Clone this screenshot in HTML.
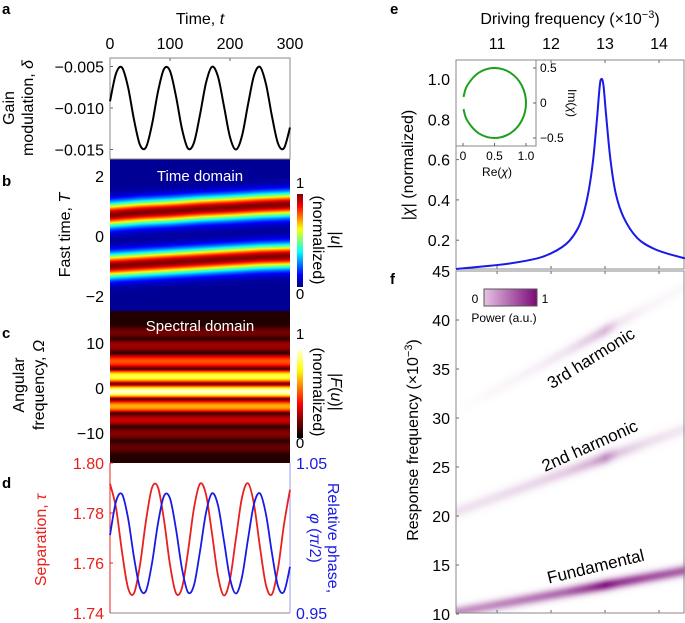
<!DOCTYPE html>
<html><head><meta charset="utf-8">
<style>
html,body{margin:0;padding:0;background:#fff;}
#root{position:relative;width:685px;height:623px;overflow:hidden;font-family:"Liberation Sans",sans-serif;}
canvas{position:absolute;}
svg{position:absolute;left:0;top:0;}
text{font-family:"Liberation Sans",sans-serif;}
</style></head>
<body>
<div id="root">
<canvas id="cb" width="180" height="152" style="left:110px;top:159px"></canvas>
<canvas id="cc" width="180" height="152" style="left:110px;top:311px"></canvas>
<canvas id="cbb" width="6" height="93" style="left:297px;top:194px"></canvas>
<canvas id="cbc" width="6" height="91" style="left:297px;top:347px"></canvas>
<canvas id="cf" width="229" height="342" style="left:456px;top:271px"></canvas>
<svg id="s" width="685" height="623"></svg>
</div>
<script>
// ---------- DATA ----------
const tSamples=[0,10,20,30,40,50,60,70,80,90,100,110,120,130,140,150,160,170,180,190,200,210,220,230,240,250,260,270,280,290,300];
const gainValues=[-9.19,-5.85,-5.13,-7.46,-11.41,-14.45,-14.73,-11.99,-8.02,-5.30,-5.54,-8.59,-12.53,-14.88,-14.16,-10.81,-6.97,-5.03,-6.22,-9.80,-13.51,-15.00,-13.36,-9.59,-6.09,-5.05,-7.13,-11.02,-14.27,-14.83,-12.35];
const separationValues=[1.7917,1.7821,1.7645,1.7501,1.7479,1.7592,1.7769,1.7901,1.7902,1.7772,1.7593,1.7479,1.7501,1.7645,1.7820,1.7917,1.7874,1.7718,1.7548,1.7470,1.7535,1.7700,1.7862,1.7919,1.7835,1.7663,1.7511,1.7475,1.7578,1.7754,1.7893];
const phaseValues=[1.0019,1.0243,1.0292,1.0135,0.9871,0.9667,0.9648,0.9832,1.0098,1.0280,1.0264,1.0059,0.9795,0.9638,0.9686,0.9911,1.0168,1.0298,1.0218,0.9979,0.9730,0.9630,0.9740,0.9992,1.0227,1.0297,1.0157,0.9897,0.9679,0.9642,0.9808];
const bandT=[0,50,100,150,200,250,300];
const band1Center=[0.72,0.80,0.85,0.92,0.97,1.03,1.07];
const band2Center=[-0.98,-0.92,-0.86,-0.80,-0.74,-0.68,-0.65];
const spectralPeaks=[12.4,9.6,6.0,2.7,-0.7,-4.0,-7.0,-10.0,-13.1];
const spectralAmps=[0.15,0.22,0.5,0.85,1.0,0.65,0.28,0.18,0.12];
const driveFreq=[10.24,10.75,11.25,11.75,12.0,12.2,12.35,12.5,12.6,12.7,12.78,12.85,12.9,12.93,12.97,13.02,13.1,13.2,13.35,13.6,13.9,14.2,14.48];
const chiMag=[0.057,0.07,0.085,0.11,0.135,0.165,0.2,0.26,0.33,0.45,0.6,0.8,0.96,1.0,0.97,0.82,0.6,0.43,0.31,0.21,0.158,0.13,0.11];
const chiRe=[0.008,0.067,0.25,0.5,0.75,0.933,1.0,0.933,0.75,0.5,0.25,0.067,0.008];
const chiIm=[0.087,0.25,0.433,0.5,0.433,0.25,0,-0.25,-0.433,-0.5,-0.433,-0.25,-0.087];
const harmDrive=[10.25,10.75,11.25,11.75,12.25,12.75,13.0,13.25,13.75,14.25,14.5];
const fundAmp=[0.45,0.45,0.5,0.55,0.6,0.8,0.95,0.8,0.7,0.65,0.65];
const secondAmp=[0.12,0.12,0.14,0.16,0.2,0.3,0.45,0.22,0.13,0.1,0.1];
const thirdAmp=[0,0.02,0.04,0.06,0.1,0.2,0.28,0.1,0.04,0.03,0.03];
const tTicks=[0,100,200,300];
const gainTicks=[-5,-10,-15];
const gainTickLabels=["−0.005","−0.010","−0.015"];
const fastTicks=[2,0,-2];
const omegaTicks=[10,0,-10];
const sepTicks=[1.80,1.78,1.76,1.74];
const phaseTicks=[1.05,0.95];
const driveTicks=[11,12,13,14];
const chiTicks=[1.0,0.8,0.6,0.4,0.2];
const respTicks=[45,40,35,30,25,20,15,10];

// ---------- SCALES ----------
const xT=t=>110+t/300*180;
const yGain=v=>108-(v+10)*8.3;
const yFast=v=>236-v*30;
const yOm=v=>388-v*4.5;
const ySep=v=>463+(1.80-v)*2500;
const yPh=v=>463+(1.05-v)*1500;
const xD=f=>456+(f-10.24)*54;
const yChi=v=>79+(1.0-v)*201.5;
const xRe=v=>463+v*63;
const yIm=v=>103-v*70;
const yResp=v=>271+(45-v)*9.8;

const NS="http://www.w3.org/2000/svg";
const svg=document.getElementById('s');
function el(tag,attrs,parent){const e=document.createElementNS(NS,tag);for(const k in attrs)e.setAttribute(k,attrs[k]);(parent||svg).appendChild(e);return e;}
function txt(x,y,s,opts){opts=opts||{};const e=el('text',{x:x,y:y,'font-size':opts.size||15,'text-anchor':opts.anchor||'middle',fill:opts.fill||'#000'});
 if(opts.weight)e.setAttribute('font-weight',opts.weight);
 if(opts.rot!==undefined)e.setAttribute('transform','rotate('+opts.rot+' '+x+' '+y+')');
 e.innerHTML=s;return e;}
function smooth(pts){let d='M'+pts[0][0]+','+pts[0][1];
 for(let i=0;i<pts.length-1;i++){const p0=pts[Math.max(0,i-1)],p1=pts[i],p2=pts[i+1],p3=pts[Math.min(pts.length-1,i+2)];
 d+=' C'+(p1[0]+(p2[0]-p0[0])/6)+','+(p1[1]+(p2[1]-p0[1])/6)+' '+(p2[0]-(p3[0]-p1[0])/6)+','+(p2[1]-(p3[1]-p1[1])/6)+' '+p2[0]+','+p2[1];}
 return d;}
function interp(xs,ys,x){if(x<=xs[0])return ys[0];for(let i=0;i<xs.length-1;i++){if(x<=xs[i+1]){const f=(x-xs[i])/(xs[i+1]-xs[i]);return ys[i]+f*(ys[i+1]-ys[i]);}}return ys[ys.length-1];}
const clamp=v=>Math.max(0,Math.min(1,v));
function jet(v){return [clamp(1.5-Math.abs(4*v-3)),clamp(1.5-Math.abs(4*v-2)),clamp(1.5-Math.abs(4*v-1))].map(c=>Math.round(c*255));}
function hot(v){return [clamp(v/0.375),clamp((v-0.375)/0.375),clamp((v-0.75)/0.25)].map(c=>Math.round(c*255));}
function fill(id,fn){const c=document.getElementById(id),ctx=c.getContext('2d'),im=ctx.createImageData(c.width,c.height);
 for(let y=0;y<c.height;y++)for(let x=0;x<c.width;x++){const col=fn(x,y),i=(y*c.width+x)*4;im.data[i]=col[0];im.data[i+1]=col[1];im.data[i+2]=col[2];im.data[i+3]=255;}
 ctx.putImageData(im,0,0);}

// ---------- HEATMAPS ----------
fill('cb',(x,y)=>{const t=x/180*300,T=(236-(159+y))/30;const c1=interp(bandT,band1Center,t),c2=interp(bandT,band2Center,t);
 const v=Math.exp(-Math.pow(T-c1,2)/(2*0.27*0.27))+Math.exp(-Math.pow(T-c2,2)/(2*0.27*0.27));return jet(0.02+0.98*Math.min(1,v));});
fill('cc',(x,y)=>{const O=(388-(311+y))/4.5;let bi=0,bd=1e9;
 spectralPeaks.forEach((p,i)=>{const d=Math.abs(O-p);if(d<bd){bd=d;bi=i;}});
 const p=spectralPeaks[bi],d=O-p;let nb=d>0?spectralPeaks[bi-1]:spectralPeaks[bi+1];let h=nb===undefined?1.6:Math.abs(nb-p)/2;
 const w=Math.cos(Math.PI/2*Math.min(1,Math.abs(d)/h));const v=spectralAmps[bi]*Math.pow(w,0.9)*0.97+0.02*(1-w);return hot(v*0.97+0.03);});
fill('cbb',(x,y)=>jet(1-y/92));
fill('cbc',(x,y)=>hot(1-y/90));
fill('cf',(x,y)=>{const f=10.24+x/54,r=45-y/9.8;
 const amps=[interp(harmDrive,fundAmp,f),interp(harmDrive,secondAmp,f),interp(harmDrive,thirdAmp,f)];
 const sig=[0.4,0.45,0.45];let v=0;
 for(let k=1;k<=3;k++){const s=sig[k-1];v+=amps[k-1]*Math.exp(-Math.pow(r-k*f,2)/(2*s*s));}
 v=clamp(v);return [Math.round(255-v*(255-123)),Math.round(255-v*(255-10)),Math.round(255-v*(255-120))];});

// ---------- PANEL A ----------
txt(2,14,'a',{size:15,weight:'bold',anchor:'start'});
txt(200,24,'Time, <tspan font-style="italic">t</tspan>',{size:16});
tTicks.forEach(t=>{txt(xT(t),49,t,{size:16});el('line',{x1:xT(t),x2:xT(t),y1:58,y2:61,stroke:'#666'});});
gainTicks.forEach((v,i)=>{txt(104,yGain(v)+6,gainTickLabels[i],{size:16,anchor:'end'});el('line',{x1:110,x2:113,y1:yGain(v),y2:yGain(v),stroke:'#666'});});
el('rect',{x:110,y:58,width:180,height:101,fill:'none',stroke:'#888'});
txt(14,108,'Gain',{size:16,rot:-90});
txt(33,108,'modulation, <tspan font-style="italic">δ</tspan>',{size:16,rot:-90});
const gl=el('path',{d:smooth(tSamples.map((t,i)=>[xT(t),yGain(gainValues[i])])),fill:'none',stroke:'#000','stroke-width':2});



// ---------- PANEL B ----------
txt(2,186,'b',{size:15,weight:'bold',anchor:'start'});
fastTicks.forEach(v=>txt(104,yFast(v)+6,v===-2?'−2':v,{size:16,anchor:'end'}));
txt(70,235,'Fast time, <tspan font-style="italic">T</tspan>',{size:16,rot:-90});
txt(200,181,'Time domain',{size:15,fill:'#fff'});
txt(300,188,'1',{size:15});txt(300,299,'0',{size:15});
txt(313,240,'(normalized)',{size:16,rot:90});
txt(331,240,'|<tspan font-style="italic">u</tspan>|',{size:16,rot:90});

// ---------- PANEL C ----------
txt(2,338,'c',{size:15,weight:'bold',anchor:'start'});
omegaTicks.forEach(v=>txt(104,yOm(v)+6,v===-10?'−10':v,{size:16,anchor:'end'}));
txt(24,385,'Angular',{size:16,rot:-90});
txt(44,385,'frequency, <tspan font-style="italic">Ω</tspan>',{size:16,rot:-90});
txt(200,331,'Spectral domain',{size:15,fill:'#fff'});
txt(300,339,'1',{size:15});txt(300,448,'0',{size:15});
txt(313,392,'(normalized)',{size:16,rot:90});
txt(331,392,'|<tspan font-style="italic">F</tspan>(<tspan font-style="italic">u</tspan>)|',{size:16,rot:90});

// ---------- PANEL D ----------
txt(2,488,'d',{size:15,weight:'bold',anchor:'start'});
sepTicks.forEach(v=>{txt(104,ySep(v)+6,v.toFixed(2),{size:16,anchor:'end',fill:'#e8201e'});el('line',{x1:110,x2:113,y1:ySep(v),y2:ySep(v),stroke:'#e8201e'});});
phaseTicks.forEach(v=>txt(296,yPh(v)+6,v.toFixed(2),{size:16,anchor:'start',fill:'#1a1ae6'}));
el('line',{x1:110,x2:290,y1:613,y2:613,stroke:'#888'});
el('line',{x1:110,x2:110,y1:463,y2:613,stroke:'#e8201e'});
el('line',{x1:290,x2:290,y1:463,y2:613,stroke:'#9a9af0'});
txt(46,540,'Separation, <tspan font-style="italic">τ</tspan>',{size:16,rot:-90,fill:'#e8201e'});
txt(328,538,'Relative phase,',{size:16,rot:90,fill:'#1a1ae6'});
txt(310,538,'<tspan font-style="italic">φ</tspan> (<tspan font-style="italic">π</tspan>/2)',{size:16,rot:90,fill:'#1a1ae6'});
const rl=el('path',{d:smooth(tSamples.map((t,i)=>[xT(t),ySep(separationValues[i])])),fill:'none',stroke:'#e8201e','stroke-width':1.8});


const bl=el('path',{d:smooth(tSamples.map((t,i)=>[xT(t),yPh(phaseValues[i])])),fill:'none',stroke:'#1a1ae6','stroke-width':1.8});



// ---------- PANEL E ----------
txt(390,14,'e',{size:15,weight:'bold',anchor:'start'});
txt(570,24,'Driving frequency (×10<tspan dy="-6" font-size="11">−3</tspan><tspan dy="6">)</tspan>',{size:16});
driveTicks.forEach(f=>{txt(xD(f),49,f,{size:16});
 [[60,63],[266,269],[271,274],[610,613]].forEach(a=>el('line',{x1:xD(f),x2:xD(f),y1:a[0],y2:a[1],stroke:'#666'}));});
chiTicks.forEach(v=>{txt(450,yChi(v)+6,v.toFixed(1),{size:16,anchor:'end'});el('line',{x1:456,x2:459,y1:yChi(v),y2:yChi(v),stroke:'#666'});});
el('rect',{x:456,y:60,width:228,height:209,fill:'none',stroke:'#888'});
txt(413,165,'|<tspan font-style="italic">χ</tspan>| (normalized)',{size:16,rot:-90});
const cl=el('path',{d:smooth(driveFreq.map((f,i)=>[xD(f),yChi(chiMag[i])])),fill:'none',stroke:'#1a1ae6','stroke-width':2});


// inset
el('rect',{x:456,y:60,width:80,height:86,fill:'#fff',stroke:'#888'});
[[0,'0'],[0.5,'0.5'],[1.0,'1.0']].forEach(a=>{txt(xRe(a[0]),160,a[1],{size:12});el('line',{x1:xRe(a[0]),x2:xRe(a[0]),y1:143,y2:146,stroke:'#666'});});
[[0.5,'0.5'],[0,'0'],[-0.5,'−0.5']].forEach(a=>{txt(540,yIm(a[0])+4,a[1],{size:12,anchor:'start'});el('line',{x1:533,x2:536,y1:yIm(a[0]),y2:yIm(a[0]),stroke:'#666'});});
txt(497,176,'Re(<tspan font-style="italic">χ</tspan>)',{size:12});
txt(568,103,'Im(<tspan font-style="italic">χ</tspan>)',{size:12,rot:90});
const ci=el('path',{d:smooth(chiRe.map((r,i)=>[xRe(r),yIm(chiIm[i])])),fill:'none',stroke:'#1ca01c','stroke-width':2});



// ---------- PANEL F ----------
txt(390,284,'f',{size:15,weight:'bold',anchor:'start'});
respTicks.forEach(v=>{txt(450,yResp(v)+6,v,{size:16,anchor:'end'});el('line',{x1:456,x2:459,y1:yResp(v),y2:yResp(v),stroke:'#666'});});
el('rect',{x:456,y:271,width:228,height:342,fill:'none',stroke:'#888'});
txt(418,440,'Response frequency (×10<tspan dy="-6" font-size="11">−3</tspan><tspan dy="6">)</tspan>',{size:16,rot:-90});
const defs=el('defs',{});const lg=el('linearGradient',{id:'pg'},defs);
el('stop',{offset:'0','stop-color':'#e6c3e4'},lg);el('stop',{offset:'1','stop-color':'#7b0a78'},lg);
el('rect',{x:484,y:289,width:53,height:17,fill:'url(#pg)',stroke:'#555'});
txt(475,303,'0',{size:12});txt(545,303,'1',{size:12});
txt(504,322,'Power (a.u.)',{size:12});
txt(594,363,'3rd harmonic',{size:17,rot:-32});
txt(592,451,'2nd harmonic',{size:17,rot:-24});
txt(597,572,'Fundamental',{size:17,rot:-13.6});
</script>
</body></html>
